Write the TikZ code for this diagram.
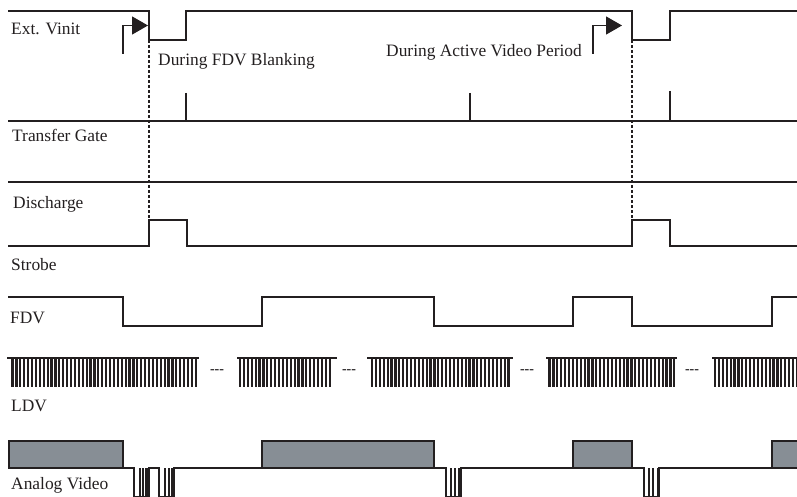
\documentclass[tikz,border=0pt]{standalone}
\usepackage{fontspec}
\setmainfont{Liberation Serif}
\usetikzlibrary{arrows.meta}
\definecolor{videogray}{HTML}{878E95}
\definecolor{wire}{HTML}{231F20}

\begin{document}
\begin{tikzpicture}[x=1pt,y=-1pt]
\tikzset{wave/.style={draw=wire,line width=1.3pt},
  lbl/.style={anchor=base west,inner sep=0pt,font=\fontsize{17.4}{20}\selectfont,text=wire},
  tooth/.style={draw=wire,line width=2.2pt},
  pick/.style={draw=wire,line width=1.3pt,-{Triangle[length=16pt,width=18pt]}}}
\useasboundingbox (0,0) rectangle (797,497);
% Ext. Vinit
\draw[wave] (8,11) -- (149,11) -- (149,40) -- (186,40) -- (186,11) -- (632,11) -- (632,40) -- (670,40) -- (670,11) -- (797,11);
\node[lbl] (vinit) at (11,35) {Ext. Vinit};
\node[lbl] (blank) at (158,66) {During FDV Blanking};
\node[lbl] (active) at (386,57) {During Active Video Period};
\coordinate (pa) at (123,54);
\coordinate (pb) at (148,25.5);
\coordinate (pc) at (593,54);
\coordinate (pd) at (622,25.5);
\draw[pick] (pa) |- (pb);
\draw[pick] (pc) |- (pd);
\draw[wire,densely dashed,line width=1.2pt] (149,40) -- (149,220);
\draw[wire,densely dashed,line width=1.2pt] (632,40) -- (632,220);
% Transfer Gate
\draw[wave] (8,121) -- (797,121);
\foreach \x/\y in {186/93,470/93,670/91}
  \draw[wire,line width=2.7pt] (\x,\y) -- (\x,122);
\node[lbl] (gate) at (12,142) {Transfer Gate};
% Discharge
\draw[wave] (8,182) -- (797,182);
\node[lbl] (discharge) at (13,208) {Discharge};
% Strobe
\draw[wave] (8,246) -- (149,246) -- (149,220) -- (187,220) -- (187,246) -- (632,246) -- (632,220) -- (670,220) -- (670,246) -- (797,246);
\node[lbl] (strobe) at (11,270) {Strobe};
% FDV
\draw[wave] (8,297) -- (123,297) -- (123,326) -- (262,326) -- (262,297) -- (434,297) -- (434,326) -- (573,326) -- (573,297) -- (632,297) -- (632,326) -- (772,326) -- (772,297) -- (797,297);
\node[lbl] (fdv) at (10,323) {FDV};
% LDV
\foreach \a/\b/\c/\d in {7/12.5/199/199,237/240/331/337,367/372/510/513,546/549.5/675/677,712/715/797/797}{
  \draw[wave] (\a,358) -- (\d,358);
  \pgfmathsetmacro{\nxt}{\b+3.9}
  \foreach \x in {\b,\nxt,...,\c}
    \draw[tooth] (\x,358) -- (\x,387);
}
\foreach \x in {217,349,527,692}
  \node[lbl,anchor=center,font=\fontsize{14}{16}\selectfont\bfseries] (dots\x) at (\x,372) {-{}-{}-};
\node[lbl] (ldv) at (11,411) {LDV};
% Analog Video
\foreach \a/\b in {9/123,262/434,573/632,772/798}
  \draw[wave,fill=videogray] (\a,468) -- (\a,441) -- (\b,441) -- (\b,468);
\draw[wave] (8,468) -- (134,468) -- (134,497) -- (149,497) -- (149,468) -- (159,468) -- (159,497) -- (174,497) -- (174,468) -- (446,468) -- (446,497) -- (461,497) -- (461,468) -- (644,468) -- (644,497) -- (659,497) -- (659,468) -- (797,468);
\foreach \x in {140,143,146,148,165,169,172,173.5,451,455,459,460.5,649,653,658}
  \draw[wire,line width=1.5pt] (\x,468) -- (\x,497);
\node[lbl] (video) at (11,489) {Analog Video};
\end{tikzpicture}
\end{document}
